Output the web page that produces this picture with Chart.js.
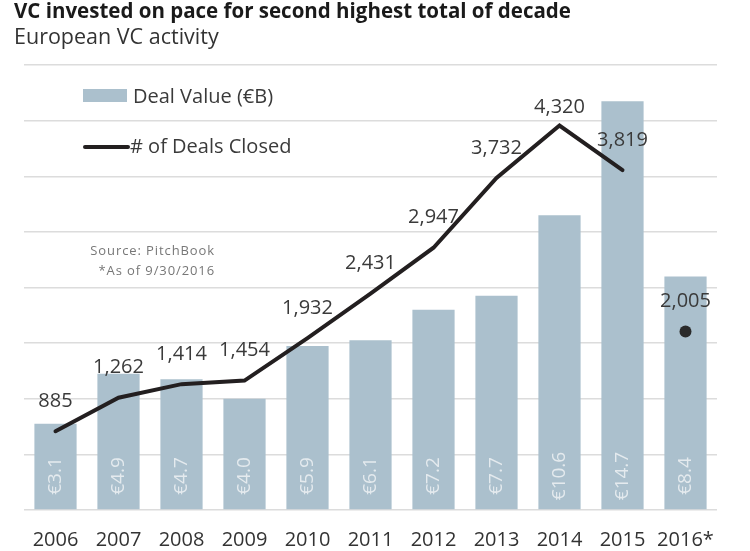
<!DOCTYPE html>
<html>
<head>
<meta charset="utf-8">
<script src="https://cdn.jsdelivr.net/npm/chart.js@4"></script>
<style>
  body { margin: 0; background: #fff; font-family: "Open Sans", sans-serif; }
  #wrap { position: relative; width: 750px; height: 551px; overflow: hidden; }
  #chart { position: absolute; left: 0; top: 0; }
  .txt { position: absolute; white-space: nowrap; }
  #title { left: 14px; top: -4px; font-size: 20.5px; font-weight: 700; color: #1a1a1a; }
  #subtitle { left: 14px; top: 21px; font-size: 21.5px; color: #333; }
  .legend { position: absolute; left: 83px; font-size: 20px; color: #3a3a3a; }
  .swatch { position: absolute; left: 0; }
  #source { right: 535px; top: 240px; font-size: 13px; color: #777; letter-spacing: 0.9px; text-align: right; line-height: 20px; }
</style>
</head>
<body>
<div id="wrap">
  <canvas id="chart" width="750" height="562"></canvas>
  <div class="txt" id="title">VC invested on pace for second highest total of decade</div>
  <div class="txt" id="subtitle">European VC activity</div>
  <div class="legend" style="top:82px;"><span class="swatch" style="top:7px;width:44px;height:13px;background:#abc0cd;"></span><span class="txt" style="left:50px;top:0;">Deal Value (€B)</span></div>
  <div class="legend" style="top:132px;"><span class="swatch" style="top:13px;width:47px;height:4px;background:#231f20;border-radius:2px;"></span><span class="txt" style="left:47px;top:0;"># of Deals Closed</span></div>
  <div class="txt" id="source">Source: PitchBook<br>*As of 9/30/2016</div>
</div>
<script>
// European VC activity
const years = ['2006', '2007', '2008', '2009', '2010', '2011', '2012', '2013', '2014', '2015', '2016*'];
const dealValue = [3.1, 4.9, 4.7, 4.0, 5.9, 6.1, 7.2, 7.7, 10.6, 14.7, 8.4];
const dealCount = [885, 1262, 1414, 1454, 1932, 2431, 2947, 3732, 4320, 3819, 2005];

const lastIdx = years.length - 1; // 2016 is YTD: dot only, not joined to the line

// draws the value labels on the bars and above the line points
const labelPlugin = {
  id: 'labels',
  afterDatasetsDraw(chart) {
    const ctx = chart.ctx;
    const bottom = chart.chartArea.bottom;
    ctx.save();

    // bar labels, rotated, near the bottom of each bar
    const bars = chart.getDatasetMeta(1).data;
    ctx.font = '19px "Open Sans"';
    ctx.fillStyle = '#e4eaee';
    ctx.textAlign = 'center';
    ctx.textBaseline = 'middle';
    bars.forEach((bar, i) => {
      ctx.save();
      ctx.translate(bar.x, bottom - 34);
      ctx.rotate(-Math.PI / 2);
      ctx.fillText('€' + dealValue[i].toFixed(1), 0, 0);
      ctx.restore();
    });

    // deal count labels
    const pts = chart.getDatasetMeta(0).data;
    ctx.font = '20px "Open Sans"';
    ctx.fillStyle = '#3a3a3a';
    pts.forEach((p, i) => {
      const off = i === 8 ? 18 : 30;
      ctx.fillText(dealCount[i].toLocaleString('en-US'), p.x, p.y - off);
    });
    ctx.restore();
  }
};

new Chart(document.getElementById('chart'), {
  data: {
    labels: years,
    datasets: [
      {
        type: 'line',
        label: '# of Deals Closed',
        data: dealCount,
        yAxisID: 'y1',
        borderColor: '#231f20',
        borderWidth: 4,
        borderCapStyle: 'round',
        borderJoinStyle: 'miter',
        backgroundColor: '#2b2b2b',
        pointRadius: ctx => ctx.dataIndex === lastIdx ? 6 : 0,
        pointBorderWidth: 0,
        tension: 0,
        segment: {
          borderColor: ctx => ctx.p1DataIndex === lastIdx ? 'rgba(0,0,0,0)' : '#231f20'
        },
        order: 0
      },
      {
        type: 'bar',
        label: 'Deal Value (€B)',
        data: dealValue,
        yAxisID: 'y',
        backgroundColor: '#abc0cd',
        categoryPercentage: 1,
        barPercentage: 0.67,
        order: 1
      }
    ]
  },
  options: {
    responsive: false,
    animation: false,
    layout: { padding: { top: 65, left: 24, right: 33, bottom: 0 } },
    plugins: {
      legend: { display: false },
      tooltip: { enabled: false }
    },
    scales: {
      x: {
        grid: { display: false },
        border: { display: false },
        ticks: {
          color: '#333',
          font: { family: 'Open Sans', size: 20 },
          padding: 10,
          maxRotation: 0,
          autoSkip: false
        }
      },
      y: {
        position: 'left',
        min: 0,
        max: 16,
        ticks: { display: false, stepSize: 2 },
        border: { display: false },
        grid: { color: '#dcdcdc', lineWidth: 1.5, drawTicks: false }
      },
      y1: {
        position: 'right',
        display: false,
        min: 0,
        max: 5000
      }
    }
  },
  plugins: [labelPlugin]
});
</script>
</body>
</html>
